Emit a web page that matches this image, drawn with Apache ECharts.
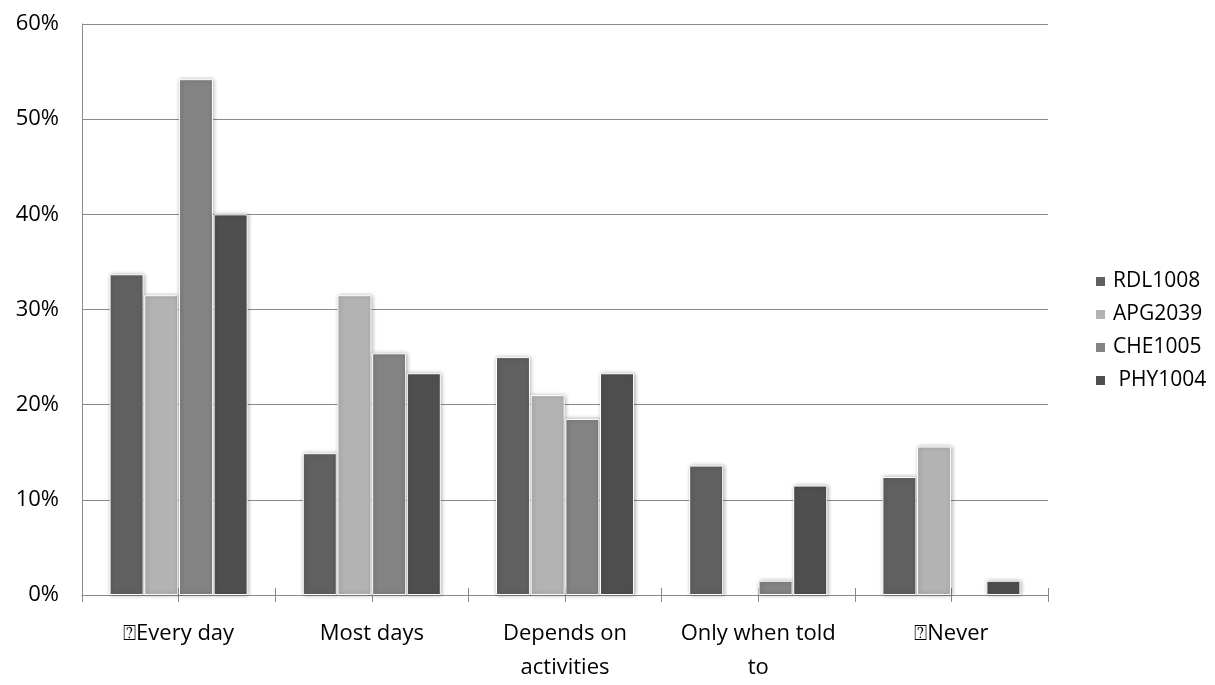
<!DOCTYPE html>
<html>
<head>
<meta charset="utf-8">
<script src="https://cdn.jsdelivr.net/npm/echarts@6/dist/echarts.min.js"></script>
<style>html,body{margin:0;padding:0;background:#fff;overflow:hidden}#c{width:1215px;height:685px}</style>
</head>
<body>
<div id="c"></div>
<script>
const categories = ['\u2370Every day', 'Most days', 'Depends on\nactivities', 'Only when told\nto', '\u2370Never'];
const seriesNames = ['RDL1008', 'APG2039', 'CHE1005', ' PHY1004'];
const rdl1008 = [33.7, 14.9, 25.0, 13.6, 12.4];
const apg2039 = [31.5, 31.5, 21.0, 0, 15.6];
const che1005 = [54.2, 25.4, 18.5, 1.5, 0];
const phy1004 = [40.0, 23.3, 23.3, 11.5, 1.5];
const yTicks = [0, 10, 20, 30, 40, 50, 60];
const tickSlots = ['', '', '', '', '', '', '', '', '', ''];

const colors = ['#606060', '#b3b3b3', '#838383', '#4f4f4f'];
const values = [rdl1008, apg2039, che1005, phy1004];
const font = '"Open Sans", "DejaVu Sans", sans-serif';
const axisGray = '#8a8a8a';

const chart = echarts.init(document.getElementById('c'), null, {renderer: 'canvas'});
chart.setOption({
  animation: false,
  backgroundColor: '#fff',
  textStyle: {fontFamily: font},
  grid: {left: 82, width: 966, top: 24, height: 584, containLabel: false},
  legend: {
    orient: 'vertical', left: 1089, top: 266,
    itemWidth: 11, itemHeight: 11, itemGap: 12,
    icon: 'rect',
    textStyle: {fontFamily: font, fontSize: 21, color: '#000', padding: [0, 0, 0, 2]},
    data: seriesNames
  },
  xAxis: [
    {
      type: 'category', data: categories, position: 'bottom',
      axisLine: {show: true, lineStyle: {color: axisGray, width: 1}},
      axisTick: {show: false},
      axisLabel: {fontFamily: font, fontSize: 22, color: '#000', margin: 22, lineHeight: 34, interval: 0}
    },
    {
      type: 'category', data: tickSlots, position: 'bottom', offset: -7,
      axisLine: {show: false},
      axisLabel: {show: false},
      axisTick: {show: true, inside: false, length: 14, lineStyle: {color: axisGray}}
    }
  ],
  yAxis: {
    type: 'value', min: 0, max: 60, interval: 10,
    axisLine: {show: true, lineStyle: {color: axisGray, width: 1}},
    axisTick: {show: false},
    splitLine: {show: true, lineStyle: {color: axisGray, width: 1}},
    axisLabel: {
      fontFamily: font, fontSize: 22, color: '#000', margin: 23,
      formatter: v => yTicks.includes(v) ? v + '%' : ''
    }
  },
  series: seriesNames.map((name, i) => ({
    name: name,
    type: 'bar',
    xAxisIndex: 0,
    data: values[i].map(v => v === 0 ? {value: v, itemStyle: {borderWidth: 0, shadowBlur: 0}} : v),
    barWidth: 34,
    barGap: '2%',
    itemStyle: {
      color: colors[i],
      borderColor: '#ffffff',
      borderWidth: 1,
      shadowBlur: 4,
      shadowColor: 'rgba(0,0,0,0.3)',
      shadowOffsetX: 1,
      shadowOffsetY: 0
    }
  }))
});
</script>
</body>
</html>
